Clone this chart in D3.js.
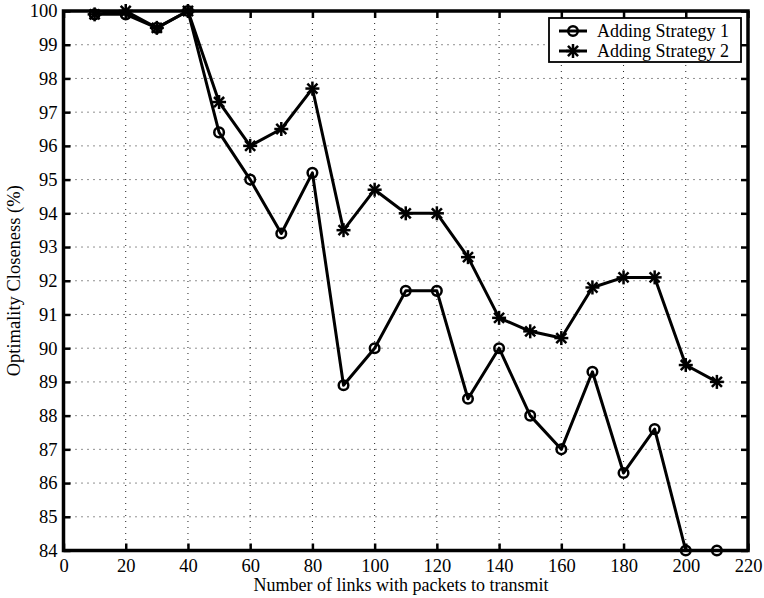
<!DOCTYPE html>
<html>
<head>
<meta charset="utf-8">
<script src="https://cdn.jsdelivr.net/npm/d3@7"></script>
<style>
  body { margin: 0; background: #fff; }
  text { font-family: "Liberation Serif", "Times New Roman", serif; }
</style>
</head>
<body>
<div id="chart"></div>
<script>
'use strict';

// number of links
const linkCounts = [10, 20, 30, 40, 50, 60, 70, 80, 90, 100, 110, 120, 130, 140, 150, 160, 170, 180, 190, 200, 210];
const strategy1 = [99.9, 99.9, 99.5, 100, 96.4, 95, 93.4, 95.2, 88.9, 90, 91.7, 91.7, 88.5, 90, 88, 87, 89.3, 86.3, 87.6, 84, 84];
const strategy2 = [99.9, 100, 99.5, 100, 97.3, 96, 96.5, 97.7, 93.5, 94.7, 94, 94, 92.7, 90.9, 90.5, 90.3, 91.8, 92.1, 92.1, 89.5, 89];
const xTicks = d3.range(0, 221, 20);
const yTicks = d3.range(84, 101, 1);
const seriesNames = ['Adding Strategy 1', 'Adding Strategy 2'];

let width = 764,
    height = 598;
let margin = {top: 11, right: 16, bottom: 47.5, left: 63.5};
let innerW = width - margin.left - margin.right,
    innerH = height - margin.top - margin.bottom;

let svg = d3.select('#chart').append('svg')
    .attr('width', width)
    .attr('height', height);

let g = svg.append('g')
    .attr('transform', 'translate(' + margin.left + ',' + margin.top + ')');

let x = d3.scaleLinear().domain([0, 220]).range([0, innerW]);
let y = d3.scaleLinear().domain([84, 100]).range([innerH, 0]);

// dotted grid
g.append('g')
    .selectAll('line')
    .data(xTicks.slice(1, -1))
    .enter().append('line')
    .attr('x1', d => x(d)).attr('x2', d => x(d))
    .attr('y1', 0).attr('y2', innerH)
    .attr('stroke', '#222')
    .attr('stroke-width', 1)
    .attr('stroke-dasharray', '1,5');

g.append('g')
    .selectAll('line')
    .data(yTicks.slice(1, -1))
    .enter().append('line')
    .attr('y1', d => y(d)).attr('y2', d => y(d))
    .attr('x1', 0).attr('x2', innerW)
    .attr('stroke', '#222')
    .attr('stroke-width', 1)
    .attr('stroke-dasharray', '1,5');

// axes with inward ticks
function styleAxis(sel) {
    sel.select('.domain').remove();
    sel.selectAll('.tick line').attr('stroke-width', 2.5);
    sel.selectAll('text')
        .style('font-size', '18.5px')
        .style('font-family', '"Liberation Serif", serif')
        .attr('fill', '#000');
}

g.append('g')
    .attr('transform', 'translate(0,' + innerH + ')')
    .call(d3.axisBottom(x).tickValues(xTicks).tickSize(-7).tickPadding(8.5))
    .call(styleAxis);

g.append('g')
    .call(d3.axisTop(x).tickValues(xTicks).tickSize(-7).tickFormat(''))
    .call(styleAxis);

g.append('g')
    .call(d3.axisLeft(y).tickValues(yTicks).tickSize(-7).tickPadding(6))
    .call(styleAxis);

g.append('g')
    .attr('transform', 'translate(' + innerW + ',0)')
    .call(d3.axisRight(y).tickValues(yTicks).tickSize(-7).tickFormat(''))
    .call(styleAxis);

// frame
g.append('rect')
    .attr('width', innerW)
    .attr('height', innerH)
    .attr('fill', 'none')
    .attr('stroke', '#000')
    .attr('stroke-width', 3.5);

let line = d3.line()
    .x(d => x(d[0]))
    .y(d => y(d[1]));

function drawCircle(sel, cx, cy) {
    sel.append('circle')
        .attr('cx', cx).attr('cy', cy).attr('r', 4.8)
        .attr('fill', 'none')
        .attr('stroke', '#000')
        .attr('stroke-width', 2.5);
}

function drawStar(sel, cx, cy) {
    let r = 7;
    let pts = [[r, 0], [0, r], [r * 0.72, r * 0.72], [r * 0.72, -r * 0.72]];
    pts.forEach(function(p) {
        sel.append('line')
            .attr('x1', cx - p[0]).attr('y1', cy - p[1])
            .attr('x2', cx + p[0]).attr('y2', cy + p[1])
            .attr('stroke', '#000')
            .attr('stroke-width', 2.5);
    });
}

let allSeries = [strategy1, strategy2];
let markers = [drawCircle, drawStar];

allSeries.forEach(function(vals, i) {
    let pts = linkCounts.map((c, j) => [c, vals[j]]);
    g.append('path')
        .datum(pts)
        .attr('d', line)
        .attr('fill', 'none')
        .attr('stroke', '#000')
        .attr('stroke-width', 3)
        .attr('stroke-linejoin', 'round');
    let mg = g.append('g');
    pts.forEach(function(p) {
        markers[i](mg, x(p[0]), y(p[1]));
    });
});

// legend
let lg = svg.append('g').attr('transform', 'translate(549,18)');
lg.append('rect')
    .attr('width', 192)
    .attr('height', 44)
    .attr('fill', '#fff')
    .attr('stroke', '#000')
    .attr('stroke-width', 1.8);

seriesNames.forEach(function(name, i) {
    let ly = 13 + i * 20;
    lg.append('line')
        .attr('x1', 10).attr('x2', 38)
        .attr('y1', ly).attr('y2', ly)
        .attr('stroke', '#000')
        .attr('stroke-width', 3);
    markers[i](lg, 24, ly);
    lg.append('text')
        .attr('x', 48)
        .attr('y', ly + 6)
        .style('font-size', '18px')
        .text(name);
});

// axis labels
svg.append('text')
    .attr('x', 401)
    .attr('y', 591)
    .attr('text-anchor', 'middle')
    .style('font-size', '18px')
    .text('Number of links with packets to transmit');

svg.append('text')
    .attr('transform', 'translate(19.5,' + (margin.top + innerH / 2) + ') rotate(-90)')
    .attr('text-anchor', 'middle')
    .style('font-size', '18.5px')
    .text('Optimality Closeness (%)');
</script>
</body>
</html>
